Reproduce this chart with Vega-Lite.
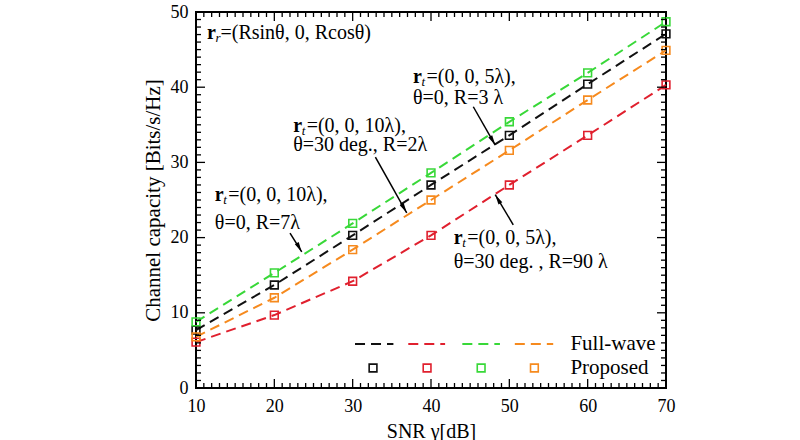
{
  "$schema": "https://vega.github.io/schema/vega-lite/v6.json",
  "width": 470,
  "height": 376,
  "autosize": {"type": "none"},
  "padding": {"left": 196, "top": 12, "right": 134, "bottom": 52},
  "background": "white",
  "config": {
    "view": {"stroke": "black", "strokeWidth": 2},
    "font": "Liberation Serif",
    "axis": {
      "grid": false,
      "domain": false,
      "ticks": false,
      "labelFont": "Liberation Serif",
      "labelFontSize": 18,
      "labelColor": "black",
      "labelOverlap": false,
      "labelFlush": false,
      "titleFont": "Liberation Serif",
      "titleFontSize": 21,
      "titleFontWeight": "normal",
      "titleColor": "black"
    }
  },
  "datasets": {
    "curves": [
      {"snr": 10, "cap": 7.7, "series": "black"}, {"snr": 20, "cap": 13.7, "series": "black"}, {"snr": 30, "cap": 20.3, "series": "black"}, {"snr": 40, "cap": 27.0, "series": "black"}, {"snr": 50, "cap": 33.6, "series": "black"}, {"snr": 60, "cap": 40.4, "series": "black"}, {"snr": 70, "cap": 47.1, "series": "black"},
      {"snr": 10, "cap": 6.1, "series": "red"}, {"snr": 20, "cap": 9.7, "series": "red"}, {"snr": 30, "cap": 14.2, "series": "red"}, {"snr": 40, "cap": 20.3, "series": "red"}, {"snr": 50, "cap": 27.0, "series": "red"}, {"snr": 60, "cap": 33.6, "series": "red"}, {"snr": 70, "cap": 40.3, "series": "red"},
      {"snr": 10, "cap": 8.8, "series": "green"}, {"snr": 20, "cap": 15.3, "series": "green"}, {"snr": 30, "cap": 21.9, "series": "green"}, {"snr": 40, "cap": 28.6, "series": "green"}, {"snr": 50, "cap": 35.4, "series": "green"}, {"snr": 60, "cap": 41.9, "series": "green"}, {"snr": 70, "cap": 48.7, "series": "green"},
      {"snr": 10, "cap": 6.8, "series": "orange"}, {"snr": 20, "cap": 12.0, "series": "orange"}, {"snr": 30, "cap": 18.4, "series": "orange"}, {"snr": 40, "cap": 25.0, "series": "orange"}, {"snr": 50, "cap": 31.6, "series": "orange"}, {"snr": 60, "cap": 38.3, "series": "orange"}, {"snr": 70, "cap": 44.9, "series": "orange"}
    ],
    "ticksX": [
      {"v": 10}, {"v": 11}, {"v": 12}, {"v": 13}, {"v": 14}, {"v": 15}, {"v": 16}, {"v": 17}, {"v": 18}, {"v": 19},
      {"v": 20}, {"v": 21}, {"v": 22}, {"v": 23}, {"v": 24}, {"v": 25}, {"v": 26}, {"v": 27}, {"v": 28}, {"v": 29},
      {"v": 30}, {"v": 31}, {"v": 32}, {"v": 33}, {"v": 34}, {"v": 35}, {"v": 36}, {"v": 37}, {"v": 38}, {"v": 39},
      {"v": 40}, {"v": 41}, {"v": 42}, {"v": 43}, {"v": 44}, {"v": 45}, {"v": 46}, {"v": 47}, {"v": 48}, {"v": 49},
      {"v": 50}, {"v": 51}, {"v": 52}, {"v": 53}, {"v": 54}, {"v": 55}, {"v": 56}, {"v": 57}, {"v": 58}, {"v": 59},
      {"v": 60}, {"v": 61}, {"v": 62}, {"v": 63}, {"v": 64}, {"v": 65}, {"v": 66}, {"v": 67}, {"v": 68}, {"v": 69}, {"v": 70}
    ],
    "ticksY": [
      {"v": 0}, {"v": 1}, {"v": 2}, {"v": 3}, {"v": 4}, {"v": 5}, {"v": 6}, {"v": 7}, {"v": 8}, {"v": 9},
      {"v": 10}, {"v": 11}, {"v": 12}, {"v": 13}, {"v": 14}, {"v": 15}, {"v": 16}, {"v": 17}, {"v": 18}, {"v": 19},
      {"v": 20}, {"v": 21}, {"v": 22}, {"v": 23}, {"v": 24}, {"v": 25}, {"v": 26}, {"v": 27}, {"v": 28}, {"v": 29},
      {"v": 30}, {"v": 31}, {"v": 32}, {"v": 33}, {"v": 34}, {"v": 35}, {"v": 36}, {"v": 37}, {"v": 38}, {"v": 39},
      {"v": 40}, {"v": 41}, {"v": 42}, {"v": 43}, {"v": 44}, {"v": 45}, {"v": 46}, {"v": 47}, {"v": 48}, {"v": 49}, {"v": 50}
    ],
    "legendLines": [
      {"x": 30.3, "y": 5.85, "series": "black"}, {"x": 35.2, "y": 5.85, "series": "black"},
      {"x": 37.1, "y": 5.85, "series": "red"}, {"x": 41.8, "y": 5.85, "series": "red"},
      {"x": 44.0, "y": 5.85, "series": "green"}, {"x": 48.8, "y": 5.85, "series": "green"},
      {"x": 50.7, "y": 5.85, "series": "orange"}, {"x": 55.6, "y": 5.85, "series": "orange"}
    ],
    "legendMarks": [
      {"x": 32.6, "y": 2.66, "series": "black"},
      {"x": 39.5, "y": 2.66, "series": "red"},
      {"x": 46.4, "y": 2.66, "series": "green"},
      {"x": 53.2, "y": 2.66, "series": "orange"}
    ],
    "legendText": [
      {"x": 57.8, "y": 5.8, "label": "Full-wave"},
      {"x": 57.8, "y": 2.6, "label": "Proposed"}
    ],
    "notes1": [
      {"x": 11.4, "y": 47.2, "sub": "r", "rest": "=(Rsinθ, 0, Rcosθ)"},
      {"x": 12.4, "y": 25.7, "sub": "t", "rest": "=(0, 0, 10λ),"},
      {"x": 22.4, "y": 34.8, "sub": "t", "rest": "=(0, 0, 10λ),"},
      {"x": 37.7, "y": 41.4, "sub": "t", "rest": "=(0, 0, 5λ),"},
      {"x": 42.9, "y": 19.9, "sub": "t", "rest": "=(0, 0, 5λ),"}
    ],
    "notes2": [
      {"x": 12.4, "y": 21.9, "text": "θ=0, R=7λ"},
      {"x": 22.4, "y": 32.3, "text": "θ=30 deg., R=2λ"},
      {"x": 37.7, "y": 38.6, "text": "θ=0, R=3 λ"},
      {"x": 42.9, "y": 16.8, "text": "θ=30 deg. , R=90 λ"}
    ],
    "arrows": [
      {"x": 22.0, "y": 20.6, "x2": 23.5, "y2": 18.1, "dir": "down"},
      {"x": 32.9, "y": 30.7, "x2": 36.9, "y2": 23.3, "dir": "down"},
      {"x": 45.4, "y": 37.4, "x2": 48.2, "y2": 32.3, "dir": "down"},
      {"x": 50.5, "y": 21.7, "x2": 48.2, "y2": 25.7, "dir": "up"}
    ]
  },
  "layer": [
    {
      "data": {"name": "curves"},
      "mark": {"type": "line", "strokeWidth": 2, "strokeDash": [10, 6]},
      "encoding": {
        "x": {"field": "snr", "type": "quantitative", "scale": {"domain": [10, 70], "nice": false, "zero": false},
          "axis": {"orient": "bottom", "title": "SNR γ[dB]", "titleFontSize": 20, "titleBaseline": "middle", "titleY": 43,
            "values": [10, 20, 30, 40, 50, 60, 70], "labelPadding": 9}},
        "y": {"field": "cap", "type": "quantitative", "scale": {"domain": [0, 50], "nice": false, "zero": false},
          "axis": {"orient": "left", "title": "Channel capacity [Bits/s/Hz]", "titlePadding": 7,
            "values": [0, 10, 20, 30, 40, 50], "labelPadding": 8}},
        "color": {"field": "series", "type": "nominal", "legend": null,
          "scale": {"domain": ["black", "red", "green", "orange"], "range": ["#111111", "#e0202e", "#38d838", "#f68a1e"]}},
        "detail": {"field": "series"}
      }
    },
    {
      "data": {"name": "curves"},
      "mark": {"type": "point", "shape": "square", "filled": false, "size": 60, "strokeWidth": 1.6, "opacity": 1},
      "encoding": {
        "x": {"field": "snr", "type": "quantitative"},
        "y": {"field": "cap", "type": "quantitative"},
        "color": {"field": "series", "type": "nominal", "legend": null}
      }
    },
    {
      "data": {"name": "ticksX"},
      "mark": {"type": "tick", "orient": "vertical", "clip": true, "color": "black", "thickness": 1.3, "opacity": 1},
      "encoding": {
        "x": {"field": "v", "type": "quantitative"},
        "y": {"datum": 0, "type": "quantitative"},
        "size": {"condition": {"test": "datum.v % 10 === 0", "value": 18}, "value": 10}
      }
    },
    {
      "data": {"name": "ticksX"},
      "mark": {"type": "tick", "orient": "vertical", "clip": true, "color": "black", "thickness": 1.3, "opacity": 1},
      "encoding": {
        "x": {"field": "v", "type": "quantitative"},
        "y": {"datum": 50, "type": "quantitative"},
        "size": {"condition": {"test": "datum.v % 10 === 0", "value": 18}, "value": 10}
      }
    },
    {
      "data": {"name": "ticksY"},
      "mark": {"type": "tick", "orient": "horizontal", "clip": true, "color": "black", "thickness": 1.3, "opacity": 1},
      "encoding": {
        "y": {"field": "v", "type": "quantitative"},
        "x": {"datum": 10, "type": "quantitative"},
        "size": {"condition": {"test": "datum.v % 10 === 0", "value": 18}, "value": 10}
      }
    },
    {
      "data": {"name": "ticksY"},
      "mark": {"type": "tick", "orient": "horizontal", "clip": true, "color": "black", "thickness": 1.3, "opacity": 1},
      "encoding": {
        "y": {"field": "v", "type": "quantitative"},
        "x": {"datum": 70, "type": "quantitative"},
        "size": {"condition": {"test": "datum.v % 10 === 0", "value": 18}, "value": 10}
      }
    },
    {
      "data": {"name": "legendLines"},
      "mark": {"type": "line", "strokeWidth": 2, "strokeDash": [10, 6]},
      "encoding": {
        "x": {"field": "x", "type": "quantitative"},
        "y": {"field": "y", "type": "quantitative"},
        "color": {"field": "series", "type": "nominal", "legend": null},
        "detail": {"field": "series"}
      }
    },
    {
      "data": {"name": "legendMarks"},
      "mark": {"type": "point", "shape": "square", "filled": false, "size": 60, "strokeWidth": 1.6, "opacity": 1},
      "encoding": {
        "x": {"field": "x", "type": "quantitative"},
        "y": {"field": "y", "type": "quantitative"},
        "color": {"field": "series", "type": "nominal", "legend": null}
      }
    },
    {
      "data": {"name": "legendText"},
      "mark": {"type": "text", "align": "left", "baseline": "middle", "fontSize": 21, "font": "Liberation Serif", "color": "black"},
      "encoding": {
        "x": {"field": "x", "type": "quantitative"},
        "y": {"field": "y", "type": "quantitative"},
        "text": {"field": "label"}
      }
    },
    {
      "data": {"name": "notes1"},
      "mark": {"type": "text", "text": "r", "align": "left", "baseline": "middle", "fontSize": 20, "fontWeight": "bold", "font": "Liberation Serif", "color": "black"},
      "encoding": {
        "x": {"field": "x", "type": "quantitative"},
        "y": {"field": "y", "type": "quantitative"}
      }
    },
    {
      "data": {"name": "notes1"},
      "mark": {"type": "text", "align": "left", "baseline": "middle", "dx": 8.5, "dy": 5, "fontSize": 13, "fontStyle": "italic", "font": "Liberation Serif", "color": "black"},
      "encoding": {
        "x": {"field": "x", "type": "quantitative"},
        "y": {"field": "y", "type": "quantitative"},
        "text": {"field": "sub"}
      }
    },
    {
      "data": {"name": "notes1"},
      "mark": {"type": "text", "align": "left", "baseline": "middle", "dx": 13.5, "fontSize": 20, "font": "Liberation Serif", "color": "black"},
      "encoding": {
        "x": {"field": "x", "type": "quantitative"},
        "y": {"field": "y", "type": "quantitative"},
        "text": {"field": "rest"}
      }
    },
    {
      "data": {"name": "notes2"},
      "mark": {"type": "text", "align": "left", "baseline": "middle", "fontSize": 20, "font": "Liberation Serif", "color": "black"},
      "encoding": {
        "x": {"field": "x", "type": "quantitative"},
        "y": {"field": "y", "type": "quantitative"},
        "text": {"field": "text"}
      }
    },
    {
      "data": {"name": "arrows"},
      "mark": {"type": "rule", "color": "black", "strokeWidth": 1.5},
      "encoding": {
        "x": {"field": "x", "type": "quantitative"},
        "y": {"field": "y", "type": "quantitative"},
        "x2": {"field": "x2"},
        "y2": {"field": "y2"}
      }
    },
    {
      "data": {"name": "arrows"},
      "transform": [{"filter": "datum.dir === 'down'"}],
      "mark": {"type": "point", "shape": "M0,0L-0.45,2L0.45,2Z", "filled": true, "color": "black", "size": 100, "angle": 150, "opacity": 1},
      "encoding": {
        "x": {"field": "x2", "type": "quantitative"},
        "y": {"field": "y2", "type": "quantitative"}
      }
    },
    {
      "data": {"name": "arrows"},
      "transform": [{"filter": "datum.dir === 'up'"}],
      "mark": {"type": "point", "shape": "M0,0L-0.45,2L0.45,2Z", "filled": true, "color": "black", "size": 100, "angle": 329, "opacity": 1},
      "encoding": {
        "x": {"field": "x2", "type": "quantitative"},
        "y": {"field": "y2", "type": "quantitative"}
      }
    }
  ]
}
